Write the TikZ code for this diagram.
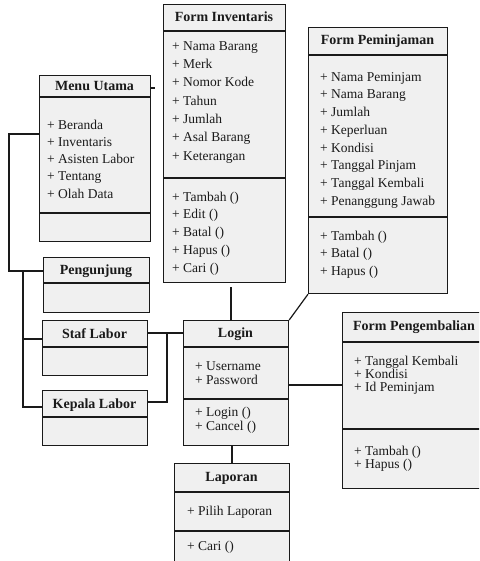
\documentclass[tikz,border=0pt]{standalone}
\usepackage{fontspec}
\setmainfont{Liberation Serif}
\definecolor{boxfill}{HTML}{F0F0F0}
\definecolor{ink}{HTML}{1A1A1A}
\tikzset{
  classbox/.style={draw=ink, fill=boxfill, line width=1.2pt, inner sep=0pt,
    rectangle, anchor=north west},
  divider/.style={draw=ink, line width=1.2pt},
  link/.style={draw=ink, line width=1.2pt},
  title/.style={font=\fontsize{14}{16}\selectfont\bfseries, text=ink,
    inner sep=0pt, text height=9.5pt, text depth=3pt},
  member/.style={font=\fontsize{13.5}{15}\selectfont, text=ink,
    inner sep=0pt, anchor=west, text height=9.5pt, text depth=3pt},
}
\begin{document}
\begin{tikzpicture}[x=1pt, y=-1pt]
\useasboundingbox (0,0) rectangle (479,561);
\fill[white] (0,0) rectangle (479,561);
\clip (0,0) rectangle (479,561);

% ---------- class boxes ----------
\node[classbox, minimum width=122pt, minimum height=278pt] (inv) at (163,4) {};
\node[classbox, minimum width=111pt, minimum height=166pt] (menu) at (39,75) {};
\node[classbox, minimum width=139pt, minimum height=266pt] (pinjam) at (308,27) {};
\node[classbox, minimum width=106pt, minimum height=55pt] (pengunjung) at (43,257) {};
\node[classbox, minimum width=105pt, minimum height=55pt] (staf) at (42,320) {};
\node[classbox, minimum width=105pt, minimum height=55pt] (kepala) at (42,390) {};
\node[classbox, minimum width=105pt, minimum height=125pt] (login) at (183,320) {};
\node[classbox, minimum width=115pt, minimum height=107pt] (laporan) at (174,463) {};
\node[classbox, minimum width=144pt, minimum height=176pt] (kembali) at (342,312) {};

% ---------- compartment dividers ----------
\draw[divider] (inv.west |- 0,31) -- (inv.east |- 0,31);
\draw[divider] (inv.west |- 0,178) -- (inv.east |- 0,178);
\draw[divider] (menu.west |- 0,97) -- (menu.east |- 0,97);
\draw[divider] (menu.west |- 0,213) -- (menu.east |- 0,213);
\draw[divider] (pinjam.west |- 0,55) -- (pinjam.east |- 0,55);
\draw[divider] (pinjam.west |- 0,217) -- (pinjam.east |- 0,217);
\draw[divider] (pengunjung.west |- 0,283) -- (pengunjung.east |- 0,283);
\draw[divider] (staf.west |- 0,347) -- (staf.east |- 0,347);
\draw[divider] (kepala.west |- 0,417) -- (kepala.east |- 0,417);
\draw[divider] (login.west |- 0,347) -- (login.east |- 0,347);
\draw[divider] (login.west |- 0,399) -- (login.east |- 0,399);
\draw[divider] (laporan.west |- 0,492) -- (laporan.east |- 0,492);
\draw[divider] (laporan.west |- 0,531) -- (laporan.east |- 0,531);
\draw[divider] (kembali.west |- 0,342) -- (kembali.east |- 0,342);
\draw[divider] (kembali.west |- 0,429) -- (kembali.east |- 0,429);

% ---------- Form Inventaris ----------
\node[title] (invT) at (224,18) {Form Inventaris};
\node[member] (inv1) at (172,47.0) {+ Nama Barang};
\node[member] (inv2) at (172,65.3) {+ Merk};
\node[member] (inv3) at (172,83.6) {+ Nomor Kode};
\node[member] (inv4) at (172,101.9) {+ Tahun};
\node[member] (inv5) at (172,120.2) {+ Jumlah};
\node[member] (inv6) at (172,138.5) {+ Asal Barang};
\node[member] (inv7) at (172,156.8) {+ Keterangan};
\node[member] (invM1) at (172,198) {+ Tambah ()};
\node[member] (invM2) at (172,215.7) {+ Edit ()};
\node[member] (invM3) at (172,233.4) {+ Batal ()};
\node[member] (invM4) at (172,251.1) {+ Hapus ()};
\node[member] (invM5) at (172,268.8) {+ Cari ()};

% ---------- Menu Utama ----------
\node[title] (menuT) at (94.5,87) {Menu Utama};
\node[member] (menu1) at (47,126) {+ Beranda};
\node[member] (menu2) at (47,143.25) {+ Inventaris};
\node[member] (menu3) at (47,160.5) {+ Asisten Labor};
\node[member] (menu4) at (47,177.75) {+ Tentang};
\node[member] (menu5) at (47,195) {+ Olah Data};

% ---------- Form Peminjaman ----------
\node[title] (pinjamT) at (377.5,41) {Form Peminjaman};
\node[member] (pin1) at (320,78) {+ Nama Peminjam};
\node[member] (pin2) at (320,95.7) {+ Nama Barang};
\node[member] (pin3) at (320,113.4) {+ Jumlah};
\node[member] (pin4) at (320,131.1) {+ Keperluan};
\node[member] (pin5) at (320,148.8) {+ Kondisi};
\node[member] (pin6) at (320,166.5) {+ Tanggal Pinjam};
\node[member] (pin7) at (320,184.2) {+ Tanggal Kembali};
\node[member] (pin8) at (320,201.9) {+ Penanggung Jawab};
\node[member] (pinM1) at (320,237) {+ Tambah ()};
\node[member] (pinM2) at (320,254.5) {+ Batal ()};
\node[member] (pinM3) at (320,272) {+ Hapus ()};

% ---------- actors ----------
\node[title] (pengunjungT) at (96,271) {Pengunjung};
\node[title] (stafT) at (94.5,335) {Staf Labor};
\node[title] (kepalaT) at (94.5,405) {Kepala Labor};

% ---------- Login ----------
\node[title] (loginT) at (235.5,334) {Login};
\node[member] (log1) at (195,367) {+ Username};
\node[member] (log2) at (195,381) {+ Password};
\node[member] (logM1) at (195,413) {+ Login ()};
\node[member] (logM2) at (195,427) {+ Cancel ()};

% ---------- Laporan ----------
\node[title] (laporanT) at (231.5,478) {Laporan};
\node[member] (lap1) at (187,512) {+ Pilih Laporan};
\node[member] (lapM1) at (187,547) {+ Cari ()};

% ---------- Form Pengembalian ----------
\node[title] (kembaliT) at (414,327) {Form Pengembalian};
\node[member] (kem1) at (354,362) {+ Tanggal Kembali};
\node[member] (kem2) at (354,375) {+ Kondisi};
\node[member] (kem3) at (354,388) {+ Id Peminjam};
\node[member] (kemM1) at (354,452) {+ Tambah ()};
\node[member] (kemM2) at (354,465) {+ Hapus ()};

% ---------- connectors ----------
\coordinate (stub) at (155,88);
\draw[link] (menu.east |- stub) -- (stub);

\coordinate (trunkA) at (9,134);
\coordinate (trunkB) at (9,271);
\coordinate (branch) at (23,271);
\coordinate (branchEnd) at (23,407);
\draw[link] (menu.west |- trunkA) -- (trunkA) -- (trunkB) -- (pengunjung.west |- trunkB);
\draw[link] (branch) -- (branchEnd) -- (kepala.west |- branchEnd);
\draw[link] (branch |- 0,339) -- (staf.west |- 0,339);

\coordinate (joint) at (167,333);
\draw[link] (staf.east |- joint) -- (login.west |- joint);
\draw[link] (joint) -- (joint |- 0,402) -- (kepala.east |- 0,402);

\coordinate (invgap) at (231,287);
\draw[link] (invgap) -- (login.north -| invgap);
\draw[link] (login.south -| 232,0) -- (laporan.north -| 232,0);
\draw[link] (login.north east) -- (pinjam.south west);
\draw[link] (login.east |- 0,385) -- (kembali.west |- 0,385);
\end{tikzpicture}
\end{document}
